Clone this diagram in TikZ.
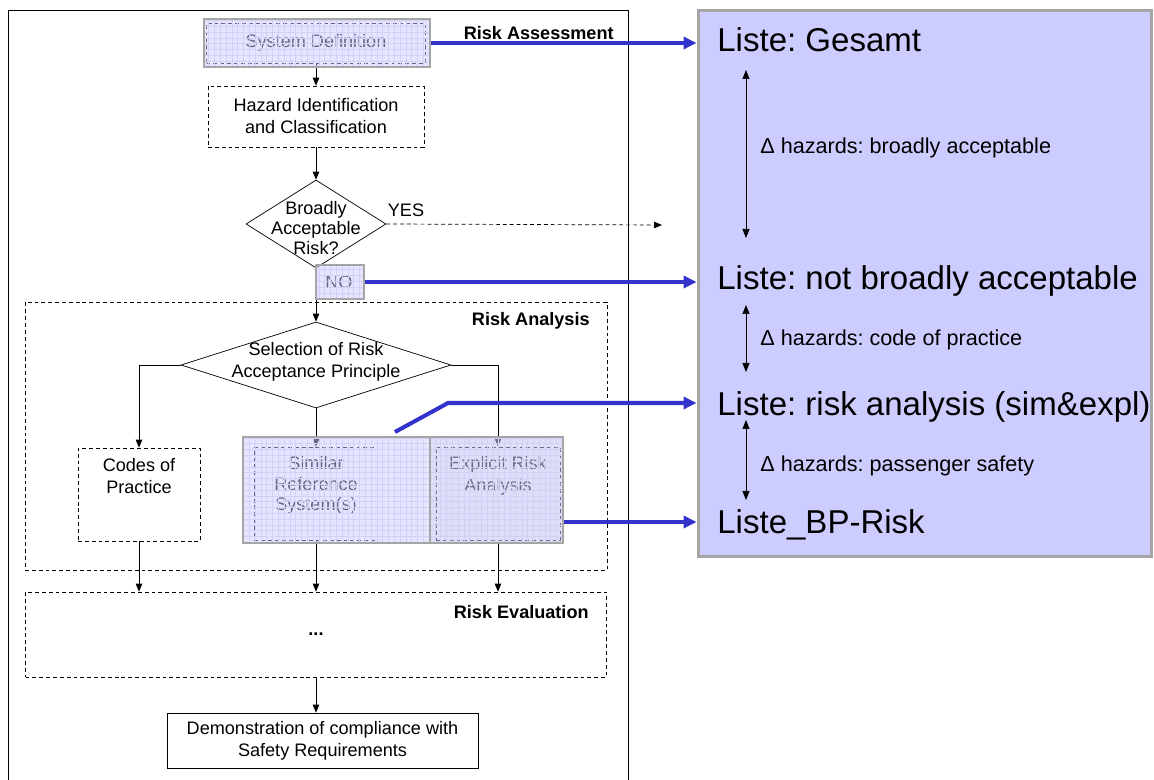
\documentclass[tikz,border=0pt]{standalone}
\usepackage{fontspec}
\setmainfont{Liberation Sans}
\frenchspacing
\usetikzlibrary{arrows.meta,shapes.geometric,patterns.meta}
\definecolor{panelblue}{RGB}{204,204,255}
\definecolor{linkblue}{RGB}{51,51,204}
\definecolor{framegray}{RGB}{165,165,165}
\definecolor{gridblue}{RGB}{208,208,248}
\tikzset{
flowtext/.style={font=\fontsize{10.3}{12.5}\selectfont, align=center},
headtext/.style={font=\fontsize{10.3}{12.5}\selectfont\bfseries, inner sep=0pt},
dashbox/.style={draw, dash pattern=on 2.2pt off 1.7pt, inner sep=0pt},
solidbox/.style={draw, inner sep=0pt},
decision/.style={draw, diamond, inner sep=0pt},
flowarrow/.style={-{Triangle[length=1.6mm,width=1.3mm]}},
marked/.style={preaction={fill=panelblue, fill opacity=0.5}, pattern={Hatch[angle=0,distance=3.3pt,line width=0.35pt]}, pattern color=gridblue, draw=framegray, line width=1.5pt, inner sep=0pt},
linkarrow/.style={draw=linkblue, line width=2.3pt, -{Triangle[length=2.6mm,width=2.4mm]}},
listtext/.style={font=\fontsize{18.8}{22}\selectfont, anchor=base west, inner sep=0pt},
deltatext/.style={font=\fontsize{12.3}{14}\selectfont, anchor=base west, inner sep=0pt},
dblarrow/.style={{Triangle[length=1.8mm,width=1.4mm]}-{Triangle[length=1.8mm,width=1.4mm]}}
}
\begin{document}
\begin{tikzpicture}[x=0.02cm, y=-0.02cm]
\useasboundingbox (0,0) rectangle (1154,780);
\draw (8,780) -- (8,10) -- (628,10) -- (628,780);
\node[headtext, anchor=east] (assess) at (614,33) {Risk Assessment};

\node[dashbox, minimum width=4.38cm, minimum height=0.8cm, flowtext] (sysdef) at (316,43) {System Definition};
\node[dashbox, minimum width=4.32cm, minimum height=1.22cm, flowtext] (hazard) at (316,116.5) {Hazard Identification\\and Classification};
\node[decision, minimum width=2.8cm, minimum height=1.76cm,
  label={[flowtext, font=\fontsize{10.3}{11.4}\selectfont, yshift=-0.08cm]center:{Broadly\\Acceptable\\Risk?}}] (broad) at (316,224) {};
\node[flowtext] (yes) at (406,210) {YES};
\coordinate (yesend) at (662,225);
\node[flowtext] (notext) at (339,282) {NO};

\node[dashbox, minimum width=11.64cm, minimum height=5.36cm] (ranalysis) at (316,436) {};
\node[headtext, anchor=east] (analabel) at (590,321) {Risk Analysis};
\node[decision, minimum width=5.4cm, minimum height=1.72cm,
  label={[flowtext, yshift=0.06cm]center:{Selection of Risk\\Acceptance Principle}}] (select) at (316,365) {};
\node[dashbox, minimum width=2.44cm, minimum height=1.86cm,
  label={[flowtext, yshift=0.37cm]center:{Codes of\\Practice}}] (codes) at (139,494.5) {};
\node[dashbox, minimum width=2.46cm, minimum height=1.86cm,
  label={[flowtext, font=\fontsize{10.3}{11.7}\selectfont, yshift=0.16cm]center:{Similar\\Reference\\System(s)}}] (similar) at (316,493.5) {};
\node[dashbox, minimum width=2.48cm, minimum height=1.86cm,
  label={[flowtext, yshift=0.35cm]center:{Explicit Risk\\Analysis}}] (explicit) at (498,493.5) {};

\node[dashbox, minimum width=11.62cm, minimum height=1.7cm] (reval) at (316,634.5) {};
\node[headtext, anchor=east] (evallabel) at (589,612) {Risk Evaluation};
\node[flowtext] (dots) at (316,634) {\textbf{...}};
\node[solidbox, minimum width=6.22cm, minimum height=1.1cm, flowtext] (demo) at (322.5,740.5) {Demonstration of compliance with\\Safety Requirements};

\draw[flowarrow] (sysdef.south) -- (hazard.north);
\draw[flowarrow] (hazard.south) -- (broad.north);
\draw[flowarrow, dash pattern=on 2.2pt off 1.7pt] (broad.east) -- (yesend);
\draw[flowarrow] (broad.south) -- (select.north);
\draw[flowarrow] (select.west) -| (codes.north);
\draw[flowarrow] (select.east) -| (explicit.north);
\draw[flowarrow] (select.south) -- (similar.north);
\draw[flowarrow] (codes.south) -- (codes.south |- reval.north);
\draw[flowarrow] (similar.south) -- (similar.south |- reval.north);
\draw[flowarrow] (explicit.south) -- (explicit.south |- reval.north);
\draw[flowarrow] (reval.south) -- (reval.south |- demo.north);

\node[marked, minimum width=4.52cm, minimum height=0.96cm] (sysmark) at (317,43) {};
\node[marked, minimum width=0.96cm, minimum height=0.68cm] (nomark) at (340,282) {};
\fill[gray, fill opacity=0.12] (430,437) rectangle (563,543);
\node[marked, minimum width=6.4cm, minimum height=2.12cm] (ramark) at (403,490) {};
\draw[framegray, line width=1pt] (430,437) -- (430,543);

\node[draw=framegray, line width=1.7pt, fill=panelblue, minimum width=9.08cm, minimum height=10.94cm, inner sep=0pt] (panel) at (925,283.5) {};
\node[listtext] (gesamt) at (717,52) {Liste: Gesamt};
\node[listtext] (notbroad) at (717,290) {Liste: not broadly acceptable};
\node[listtext] (riskan) at (717,416) {Liste: risk analysis (sim\&expl)};
\node[listtext] (bprisk) at (717,534) {Liste\_BP-Risk};
\foreach \top/\bot/\ly/\lab [count=\i] in {70/238/154/broadly acceptable, 305/372/346/code of practice, 420/500/472/passenger safety} {
\draw[dblarrow] (746,\top) coordinate (d\i a) -- (746,\bot) coordinate (d\i b);
\node[deltatext] (delta\i) at (760,\ly) {Δ hazards: \lab};
}

\draw[linkarrow] (sysmark.east) -- (sysmark.east -| panel.west);
\draw[linkarrow] (nomark.east) -- (nomark.east -| panel.west);
\coordinate (rastart) at (395,432);
\coordinate (rabend) at (448,403);
\draw[linkarrow] (rastart) -- (rabend) -- (rabend -| panel.west);
\draw[linkarrow] ([yshift=-0.64cm]ramark.east) coordinate (bpstart) -- (bpstart -| panel.west);
\end{tikzpicture}
\end{document}
